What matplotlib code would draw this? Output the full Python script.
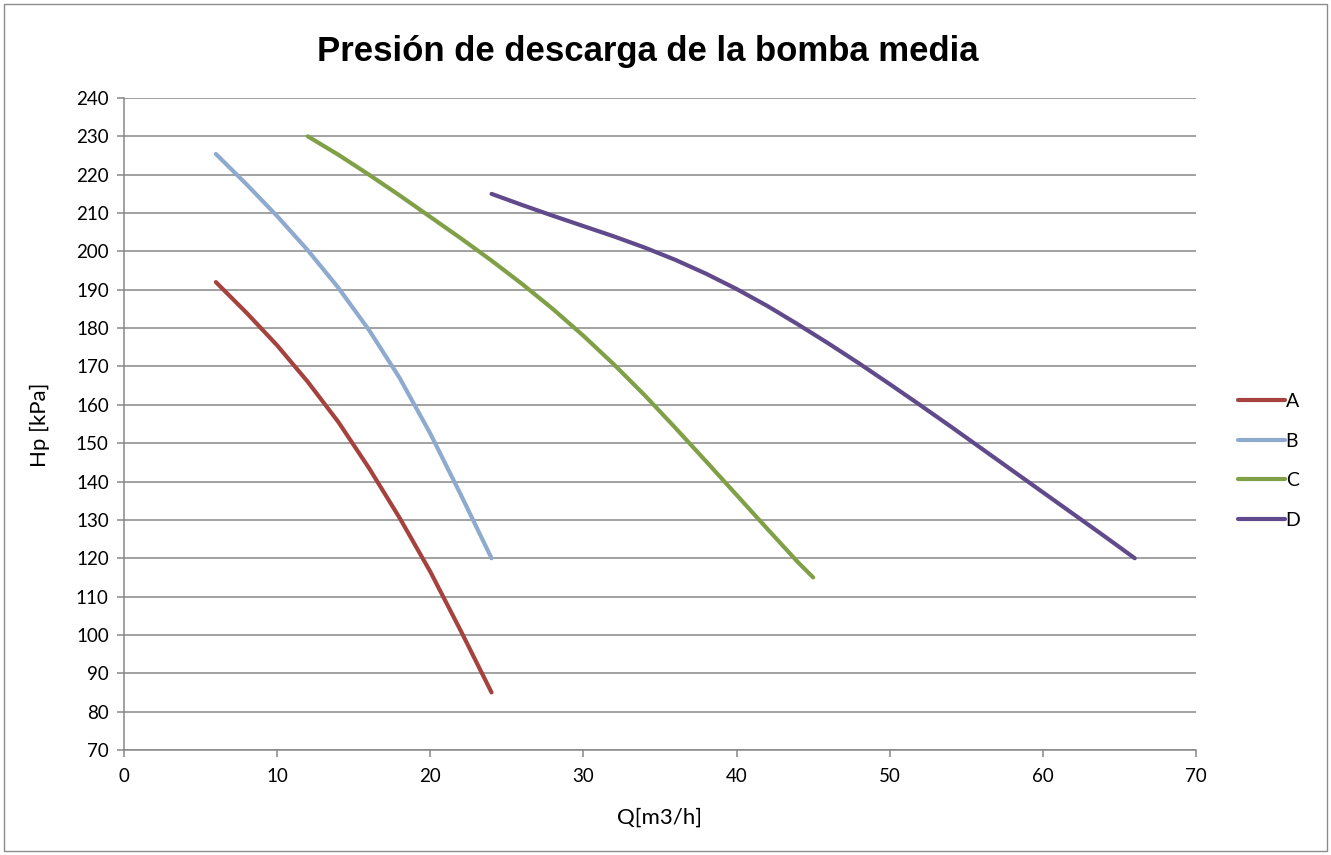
import matplotlib
matplotlib.use("Agg")
import matplotlib.pyplot as plt
from matplotlib.patches import Rectangle

# ---- data ----
q_a = [6, 8, 10, 12, 14, 16, 18, 20, 22, 24]
hp_a = [192, 184, 175.5, 166, 155.5, 143.5, 130.5, 116.5, 101, 85]

q_b = [6, 8, 10, 12, 14, 16, 18, 20, 22, 24]
hp_b = [225.4, 217.5, 209.2, 200.3, 190.5, 179.5, 167, 152.5, 136.5, 120]

q_c = [12, 14, 16, 18, 20, 22, 24, 26, 28, 30, 32, 34, 36, 38, 40, 42, 44, 45]
hp_c = [230, 225.2, 220, 214.6, 209, 203.4, 197.6, 191.5, 185, 178,
        170.5, 162.5, 154, 145.3, 136.5, 127.7, 119, 115]

q_d = [24, 26, 28, 30, 32, 34, 36, 38, 40, 42, 44, 46, 48, 50, 52, 54, 56,
       58, 60, 62, 64, 66]
hp_d = [215, 212.1, 209.3, 206.6, 203.9, 201, 197.8, 194.2, 190.2, 185.8, 181,
        176, 170.8, 165.4, 159.9, 154.3, 148.6, 142.9, 137.2, 131.5, 125.8, 120]

series_names = ["A", "B", "C", "D"]
series_colors = ["#A6423E", "#8FAACF", "#7FA046", "#604A8B"]

x_ticks = list(range(0, 71, 10))
y_ticks = list(range(70, 241, 10))

title = "Presión de descarga de la bomba media"
x_label = "Q[m3/h]"
y_label = "Hp [kPa]"

# ---- figure ----
W, H = 1331, 855
fig = plt.figure(figsize=(W / 100, H / 100), dpi=100)
fig.patch.set_facecolor("white")

# outer chart border
fig.patches.append(Rectangle((4 / W, 4 / H), 1 - 8 / W, 1 - 8 / H,
                             transform=fig.transFigure, fill=False,
                             edgecolor="#8c8c8c", linewidth=1.0))

left, right, top, bottom = 124, 1196, 98, 750
ax = fig.add_axes([left / W, 1 - bottom / H, (right - left) / W, (bottom - top) / H])

grid_c = "#878787"
ax.set_xlim(0, 70)
ax.set_ylim(70, 240)
ax.set_xticks(x_ticks)
ax.set_yticks(y_ticks)
ax.yaxis.grid(True, color=grid_c, linewidth=1.1)
ax.set_axisbelow(True)
for s in ["top", "right"]:
    ax.spines[s].set_visible(False)
for s in ["left", "bottom"]:
    ax.spines[s].set_color(grid_c)
    ax.spines[s].set_linewidth(1.1)
ax.tick_params(axis="both", direction="out", length=5, width=1.1, color=grid_c,
               labelsize=13.5, labelcolor="black")
ax.tick_params(axis="y", pad=6)
ax.tick_params(axis="x", pad=8)
for lab in ax.get_xticklabels() + ax.get_yticklabels():
    lab.set_fontfamily("Lato")

data = [(q_a, hp_a), (q_b, hp_b), (q_c, hp_c), (q_d, hp_d)]
for (q, hp), name, col in zip(data, series_names, series_colors):
    ax.plot(q, hp, color=col, linewidth=3.0, label=name,
            solid_capstyle="round", solid_joinstyle="round")

ax.set_xlabel(x_label, fontsize=16, family="Lato")
ax.set_ylabel(y_label, fontsize=16, family="Lato")
ax.xaxis.set_label_coords((660 - left) / (right - left), -(808 - bottom) / (bottom - top))
ax.yaxis.set_label_coords(-(124 - 50) / (right - left), (bottom - 425) / (bottom - top))

fig.text(647.5 / W, 1 - 52 / H, title, ha="center", va="center",
         fontsize=25, fontweight="bold", family="Liberation Sans")

leg = ax.legend(loc="center left", bbox_to_anchor=(1238 / W, 1 - 461 / H),
                bbox_transform=fig.transFigure, frameon=False,
                handlelength=2.4, handletextpad=0.05, labelspacing=1.16,
                borderpad=0, borderaxespad=0, prop={"family": "Lato", "size": 14})

fig.savefig("out.png", dpi=100, facecolor="white")
